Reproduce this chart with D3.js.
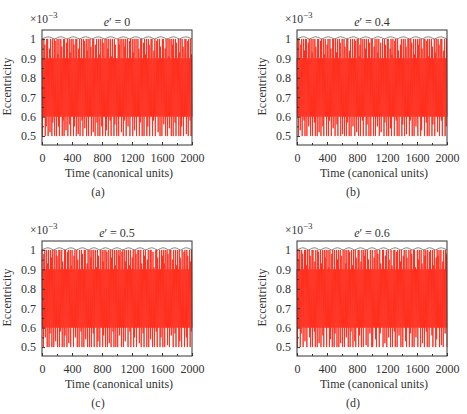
<!DOCTYPE html>
<html>
<head>
<meta charset="utf-8">
<script src="https://cdn.jsdelivr.net/npm/d3@7"></script>
<style>
  body { margin: 0; background: #fff; }
  svg { display: block; }
  text { font-family: "Liberation Serif", "DejaVu Serif", serif; fill: #333; }
</style>
</head>
<body>
<div class="container"></div>
<script>
// eccentricity (x 10^-3), sampled evenly over 0..2000 canonical time units
const eA = [
  1,.5,.9,.6,1,.6,.97,.5,.9,.55,1,.6,1,.5,.9,.6,.95,.52,1,.6,
  .9,.5,1,.57,.9,.6,1,.5,.99,.6,.9,.5,1,.6,.92,.55,1,.5,.9,.6,
  1,.6,.96,.5,.9,.58,1,.5,1,.6,.9,.53,.98,.6,1,.5,.9,.6,1,.56,
  .93,.5,1,.6,.9,.6,1,.5,.97,.55,.9,.6,1,.5,1,.6,.9,.51,.95,.6,
  1,.5,.9,.6,1,.58,.9,.5,1,.6,.99,.54,.9,.6,1,.5,.94,.6,1,.5,
  .9,.6,1,.6,.96,.5,.9,.6,1,.52,1,.6,.9,.5,.97,.6,1,.57,.9,.5,
  1,.6,.92,.5,1,.6,.9,.55,1,.5,.98,.6,.9,.6,1,.5,.9,.53,1,.6,
  .95,.5,1,.6,.9,.58,1,.5,.91,.6,1,.6,.9,.5,1,.56,.97,.6,.9,.5,
  .9,.6,1,.5,.97,.6,1,.6,.9,.52,1,.6,.9,.5,1,.58,.96,.6,1,.5,
  .9,.6,1,.55,.9,.6,.99,.5,1,.6,.9,.6,1,.5,.93,.6,1,.53,.9,.6,
  1,.5,.9,.6,1,.6,.95,.5,.9,.57,1,.6,1,.5,.9,.6,.98,.5,1,.6,
  .92,.6,1,.5,.9,.55,1,.6,.97,.5,.9,.6,1,.6,1,.5,.9,.58,.94,.6,
  1,.5,.9,.6,.99,.6,1,.52,.9,.6,1,.5,.96,.6,.9,.5,1,.6,1,.56,
  .9,.6,.95,.5,1,.6,.9,.5,1,.6,.91,.54,1,.6,.9,.5,1,.6,.97,.5,
  1,.6,.9,.57,1,.5,.98,.6,.9,.6,1,.5,.93,.6,1,.5,.9,.55,1,.6,
  .96,.5,.9,.6,1,.6,1,.51,.9,.6,.99,.5,1,.6,.9,.58,1,.5,.92,.6
];
const eB = [
  .9,.6,1,.5,1,.6,.9,.53,.97,.6,1,.5,.9,.6,1,.58,.94,.5,1,.6,
  1,.5,.9,.6,.98,.55,1,.6,.9,.5,1,.6,.93,.5,1,.6,.9,.57,1,.5,
  .96,.6,.9,.5,1,.6,1,.52,.9,.6,.99,.5,1,.6,.9,.55,1,.5,.92,.6,
  1,.6,.9,.5,.97,.6,1,.5,.9,.58,1,.6,.95,.5,.9,.6,1,.54,1,.6,
  .9,.5,1,.6,.93,.56,1,.5,.9,.6,1,.6,.98,.5,.9,.6,1,.51,.9,.6,
  1,.5,.96,.6,.9,.5,1,.57,1,.6,.9,.5,.94,.6,1,.5,.9,.6,1,.55,
  .9,.6,1,.5,.99,.6,.9,.52,1,.6,1,.5,.91,.6,.97,.5,1,.6,.9,.58,
  1,.5,.9,.6,1,.6,.95,.5,1,.56,.9,.6,1,.5,.98,.6,.9,.5,1,.6,
  1,.6,.9,.5,.96,.6,1,.5,.9,.6,1,.55,.93,.6,1,.5,.9,.6,.98,.52,
  .9,.6,1,.6,.9,.5,1,.57,.97,.6,.9,.5,1,.6,1,.5,.9,.6,.95,.54,
  1,.5,.92,.6,1,.6,.9,.5,.99,.6,1,.58,.9,.5,1,.6,.94,.5,.9,.6,
  .97,.6,1,.5,.9,.56,1,.6,.9,.5,1,.6,.96,.51,.9,.6,1,.6,1,.5,
  .9,.58,1,.6,.98,.5,.9,.6,1,.5,.92,.6,1,.55,.9,.6,1,.5,.97,.6,
  1,.6,.9,.5,1,.53,.95,.6,.9,.6,1,.5,1,.6,.9,.57,.99,.5,1,.6,
  .91,.5,1,.6,.9,.6,1,.5,.96,.56,.9,.6,1,.5,.93,.6,1,.6,.9,.52,
  1,.6,.97,.5,.9,.6,1,.58,1,.5,.9,.6,.94,.6,1,.5,.9,.55,1,.6
];
const eC = [
  1,.6,.9,.5,.98,.6,1,.55,.9,.6,1,.5,.93,.6,1,.5,.9,.57,1,.6,
  .96,.5,1,.6,.9,.5,1,.6,.9,.53,1,.6,.97,.5,.9,.6,1,.5,1,.58,
  .9,.6,1,.5,.94,.6,.9,.5,1,.56,1,.6,.9,.5,.99,.6,1,.52,.9,.6,
  1,.5,.92,.6,1,.6,.9,.5,.97,.6,1,.55,.9,.6,1,.5,.95,.6,.9,.5,
  1,.6,.9,.58,1,.5,.98,.6,.9,.5,1,.6,1,.54,.9,.6,.93,.5,1,.6,
  .9,.5,1,.6,.96,.5,1,.6,.9,.57,1,.5,.9,.6,1,.6,.91,.5,1,.53,
  .97,.6,.9,.5,1,.6,.9,.6,1,.5,.94,.56,1,.6,.9,.5,1,.6,.99,.5,
  .9,.6,1,.52,.9,.6,1,.5,.96,.6,1,.58,.9,.5,1,.6,.92,.5,1,.6,
  .9,.5,1,.6,.97,.56,1,.6,.9,.5,.99,.6,1,.5,.9,.6,1,.53,.94,.6,
  1,.6,.9,.5,1,.6,.92,.58,1,.5,.9,.6,.96,.6,1,.5,.9,.55,1,.6,
  .98,.5,.9,.6,1,.6,1,.52,.9,.6,1,.5,.93,.6,.9,.57,1,.5,.97,.6,
  1,.6,.9,.5,.95,.6,1,.5,.9,.6,1,.54,1,.6,.9,.5,.99,.6,.91,.5,
  .9,.6,1,.58,1,.5,.96,.6,.9,.6,1,.5,.9,.55,1,.6,.97,.5,1,.6,
  .93,.5,1,.6,.9,.6,1,.51,.98,.6,.9,.5,1,.6,1,.56,.9,.6,.95,.5,
  1,.6,.9,.57,1,.5,.92,.6,1,.6,.9,.5,1,.53,.96,.6,.9,.5,1,.6,
  .9,.6,.99,.5,1,.6,.9,.55,1,.5,.97,.6,.9,.6,1,.5,.94,.58,1,.6
];
const eD = [
  .9,.5,1,.6,.95,.6,1,.5,.9,.57,1,.6,.98,.5,.9,.6,1,.53,1,.6,
  .92,.5,1,.6,.9,.6,1,.55,.97,.5,.9,.6,1,.5,1,.6,.9,.58,.94,.5,
  1,.6,.9,.5,1,.6,.99,.52,.9,.6,1,.5,.93,.6,1,.56,.9,.5,1,.6,
  .96,.6,1,.5,.9,.6,1,.6,.91,.5,1,.54,.9,.6,.98,.5,1,.6,.9,.5,
  1,.57,.9,.6,1,.5,.95,.6,1,.5,.9,.6,1,.52,.97,.6,.9,.5,1,.6,
  .9,.5,1,.6,.93,.55,1,.6,.9,.5,1,.6,.99,.5,.9,.58,1,.6,.92,.5,
  1,.6,.9,.53,1,.5,.96,.6,.9,.6,1,.5,1,.56,.9,.6,.94,.5,1,.6,
  .9,.5,1,.6,.97,.6,1,.51,.9,.6,1,.5,.95,.6,.9,.57,1,.6,.9,.5,
  1,.5,.9,.6,.96,.6,1,.54,.9,.5,1,.6,.98,.6,.9,.5,1,.57,.93,.6,
  .9,.6,1,.5,1,.6,.9,.52,.97,.6,1,.5,.9,.6,1,.55,.95,.6,.9,.5,
  1,.6,.92,.5,.9,.6,1,.58,1,.5,.9,.6,.99,.5,1,.6,.9,.56,1,.6,
  .94,.5,1,.6,.9,.5,.97,.6,1,.6,.9,.53,1,.5,.96,.6,.9,.6,1,.5,
  .9,.57,1,.6,.98,.5,.9,.6,1,.5,1,.6,.91,.55,.9,.6,1,.5,.95,.6,
  1,.6,.9,.5,1,.6,.93,.52,.9,.6,1,.5,.97,.6,1,.58,.9,.5,1,.6,
  .9,.5,.99,.6,1,.6,.9,.56,1,.5,.92,.6,1,.6,.9,.5,.96,.54,1,.6,
  .97,.6,1,.5,.9,.6,1,.51,.9,.6,.94,.5,1,.6,.9,.57,1,.6,.98,.5
];

// upper envelope (grey wavy line), sampled evenly over 0..2000
const envAB = [
  1,1.007,1.011,1.007, 1,1.007,1.011,1.007, 1,1.007,1.011,1.007,
  1,1.007,1.011,1.007, 1,1.007,1.011,1.007, 1,1.007,1.011,1.007,
  1,1.007,1.011,1.007, 1,1.007,1.011,1.007, 1,1.007,1.011,1.007,
  1,1.007,1.011,1.007, 1,1.007,1.011,1.007, 1,1.007,1.011,1.007, 1
];
const envCD = [
  1,1.007,1.011,1.007, 1,1.007,1.011,1.007, 1,1.007,1.011,1.007,
  1,1.007,1.011,1.007, 1,1.007,1.011,1.007, 1,1.007,1.011,1.007,
  1,1.007,1.011,1.007, 1,1.007,1.011,1.007, 1,1.007,1.011,1.007,
  1,1.007,1.011,1.007, 1,1.007,1.011,1.007, 1,1.007,1.011,1.007,
  1,1.007,1.011,1.007, 1
];

const titles = ["0", "0.4", "0.5", "0.6"];
const tags = ["(a)", "(b)", "(c)", "(d)"];
const xTicks = [0, 400, 800, 1200, 1600, 2000];
const xMinor = [200, 600, 1000, 1400, 1800];
const yTicks = [0.5, 0.6, 0.7, 0.8, 0.9, 1];
const yMinor = [0.55, 0.65, 0.75, 0.85, 0.95];
const tMax = 2000;

const w = 467;
const h = 414;
const pw = 150;   // plot width
const ph = 115;   // plot height

const svg = d3.select(".container")
  .append("svg")
  .attr("width", w)
  .attr("height", h);

const xScale = d3.scaleLinear().domain([0, tMax]).range([0, pw]);
const yScale = d3.scaleLinear().domain([0.454, 1.046]).range([ph, 0]);

function drawPanel(left, top, vals, env, title, tag) {
  const g = svg.append("g").attr("transform", "translate(" + left + "," + top + ")");

  const step = tMax / (vals.length - 1);
  const envStep = tMax / (env.length - 1);

  const line = d3.line()
    .x((d, i) => xScale(i * step))
    .y(d => yScale(d));
  const envLine = d3.line()
    .x((d, i) => xScale(i * envStep))
    .y(d => yScale(d))
    .curve(d3.curveMonotoneX);

  g.append("path")
    .datum(vals)
    .attr("d", line)
    .attr("fill", "none")
    .attr("stroke", "#ff2a1a")
    .attr("stroke-width", 0.9)
    .attr("stroke-linejoin", "bevel");

  g.append("path")
    .datum(env)
    .attr("d", envLine)
    .attr("fill", "none")
    .attr("stroke", "#666")
    .attr("stroke-width", 0.8);

  // frame
  g.append("rect")
    .attr("width", pw)
    .attr("height", ph)
    .attr("fill", "none")
    .attr("stroke", "#333")
    .attr("stroke-width", 1);

  const xAxis = d3.axisBottom(xScale)
    .tickValues(xTicks)
    .tickFormat(d3.format("d"))
    .tickSize(-3)
    .tickPadding(8);
  const xg = g.append("g").attr("transform", "translate(0," + ph + ")").call(xAxis);
  xg.select(".domain").remove();
  xg.selectAll("text").style("font-size", "12px");

  g.append("g").attr("transform", "translate(0," + ph + ")")
    .call(d3.axisBottom(xScale).tickValues(xMinor).tickFormat("").tickSize(-2))
    .select(".domain").remove();

  const yAxis = d3.axisLeft(yScale)
    .tickValues(yTicks)
    .tickFormat(d3.format(""))
    .tickSize(-3)
    .tickPadding(6);
  const yg = g.append("g").call(yAxis);
  yg.select(".domain").remove();
  yg.selectAll("text").style("font-size", "12px");

  g.append("g")
    .call(d3.axisLeft(yScale).tickValues(yMinor).tickFormat("").tickSize(-2))
    .select(".domain").remove();

  g.selectAll(".tick line").attr("stroke", "#333");

  // exponent label
  const ex = g.append("text")
    .attr("x", -12)
    .attr("y", -7)
    .style("font-size", "11.5px");
  ex.append("tspan").text("\u00d710");
  ex.append("tspan").attr("dy", -5).style("font-size", "9px").text("\u22123");

  const tt = g.append("text")
    .attr("x", 75)
    .attr("y", -4)
    .attr("text-anchor", "middle")
    .style("font-size", "12px");
  tt.append("tspan").style("font-style", "italic").text("e");
  tt.append("tspan").text("\u2032 = " + title);

  g.append("text")
    .attr("x", 77)
    .attr("y", ph + 32)
    .attr("text-anchor", "middle")
    .style("font-size", "12px")
    .text("Time (canonical units)");

  g.append("text")
    .attr("x", 56)
    .attr("y", ph + 51)
    .attr("text-anchor", "middle")
    .style("font-size", "12px")
    .text(tag);

  g.append("text")
    .attr("transform", "translate(-31," + (ph / 2 - 1) + ") rotate(-90)")
    .attr("text-anchor", "middle")
    .style("font-size", "12px")
    .text("Eccentricity");
}

drawPanel(42, 30, eA, envAB, titles[0], tags[0]);
drawPanel(297, 30, eB, envAB, titles[1], tags[1]);
drawPanel(42, 241, eC, envCD, titles[2], tags[2]);
drawPanel(297, 241, eD, envCD, titles[3], tags[3]);
</script>
</body>
</html>
